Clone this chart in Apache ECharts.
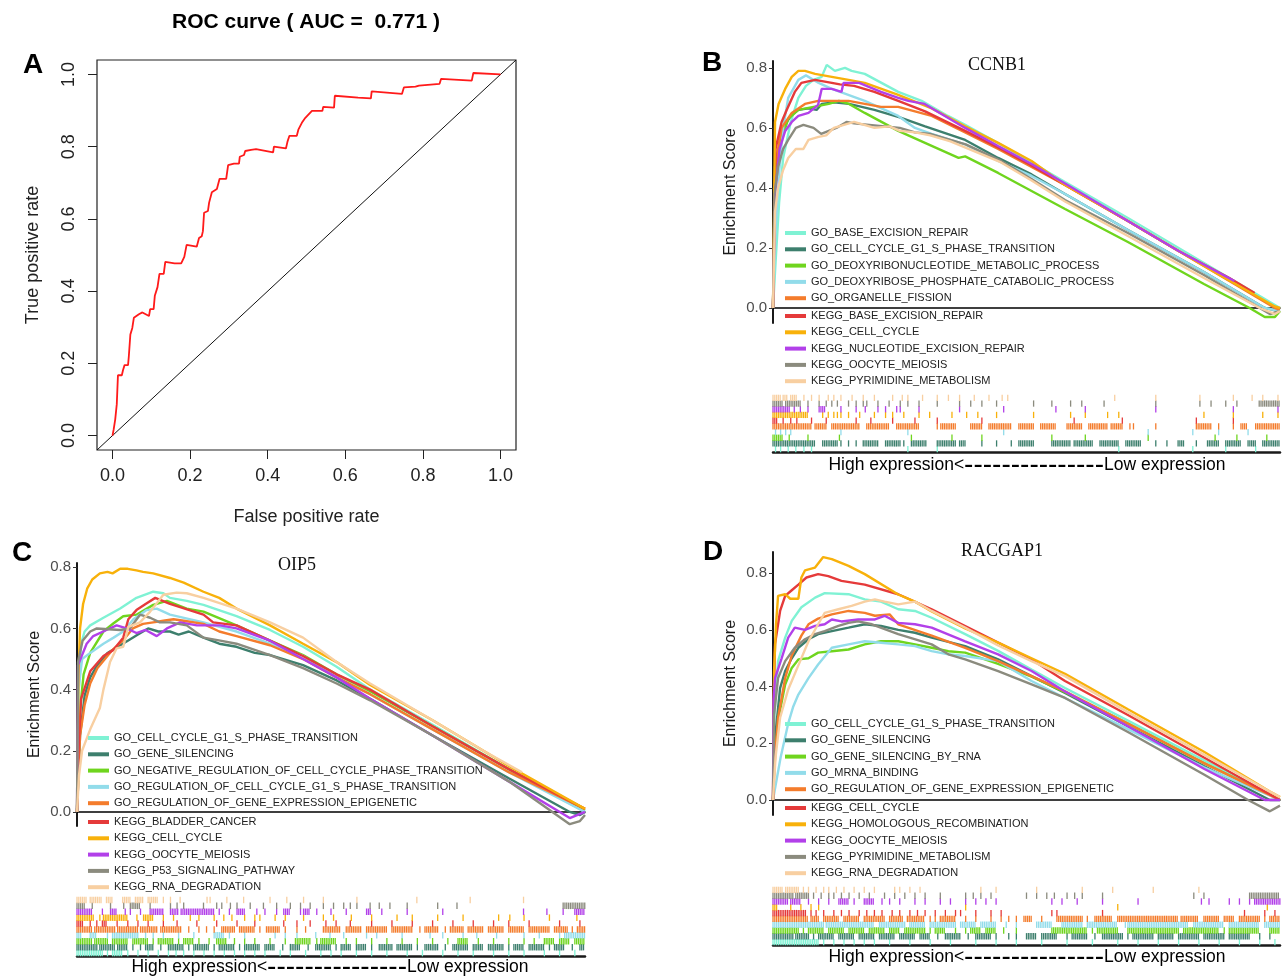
<!DOCTYPE html>
<html lang="en">
<head>
  <meta charset="UTF-8">
  <title>ROC and GSEA</title>
  <script src="https://cdn.jsdelivr.net/npm/echarts@6/dist/echarts.min.js"></script>
  <style>body{margin:0;background:#fff;}</style>
</head>
<body>
  <div id="container" style="width:1282px;height:977px;"></div>
  <script>
    // ---- panel A: ROC curve, [false positive rate, true positive rate]
    var rocCurve = [
      [0,0],[0.003,0.017],[0.007,0.045],[0.011,0.087],[0.014,0.167],[0.024,0.167],[0.027,0.181],[0.031,0.195],
      [0.040,0.195],[0.042,0.219],[0.046,0.28],[0.051,0.298],[0.055,0.326],[0.068,0.336],[0.077,0.341],[0.094,0.331],
      [0.097,0.35],[0.106,0.35],[0.109,0.387],[0.116,0.411],[0.121,0.448],[0.132,0.448],[0.136,0.481],[0.160,0.477],
      [0.177,0.477],[0.185,0.495],[0.191,0.528],[0.217,0.523],[0.223,0.547],[0.230,0.552],[0.233,0.566],[0.236,0.617],
      [0.246,0.622],[0.249,0.645],[0.256,0.674],[0.269,0.683],[0.276,0.711],[0.293,0.711],[0.298,0.749],[0.313,0.753],
      [0.326,0.753],[0.328,0.772],[0.339,0.777],[0.342,0.788],[0.357,0.791],[0.370,0.793],[0.414,0.784],[0.416,0.80],
      [0.447,0.795],[0.451,0.814],[0.456,0.83],[0.475,0.83],[0.479,0.847],[0.488,0.866],[0.497,0.88],[0.514,0.899],
      [0.541,0.899],[0.543,0.91],[0.571,0.908],[0.573,0.941],[0.633,0.936],[0.666,0.934],[0.668,0.953],[0.746,0.946],
      [0.751,0.964],[0.781,0.966],[0.790,0.969],[0.843,0.974],[0.847,0.988],[0.926,0.983],[0.930,1.004],[1.0,1.0]
    ];
    var chanceLine = [[-0.04,-0.04],[1.04,1.04]];
    var rocTicks = [0, 0.2, 0.4, 0.6, 0.8, 1.0];
    var esTicks = [0, 0.2, 0.4, 0.6, 0.8];

    // colours of the ten gene sets (same order in every GSEA panel)
    var setColors = ['#7ff2d4','#3d7f6d','#6fd51e','#92dcea','#f47c2c','#e53a3a','#f8b10a','#b240e9','#8b8b7e','#f8cfa1'];

    // ---- panel B: CCNB1
    var ccnb1Sets = ['GO_BASE_EXCISION_REPAIR','GO_CELL_CYCLE_G1_S_PHASE_TRANSITION','GO_DEOXYRIBONUCLEOTIDE_METABOLIC_PROCESS',
      'GO_DEOXYRIBOSE_PHOSPHATE_CATABOLIC_PROCESS','GO_ORGANELLE_FISSION','KEGG_BASE_EXCISION_REPAIR','KEGG_CELL_CYCLE',
      'KEGG_NUCLEOTIDE_EXCISION_REPAIR','KEGG_OOCYTE_MEIOSIS','KEGG_PYRIMIDINE_METABOLISM'];
    // running enrichment score, [rank %, ES]
    var ccnb1Es = [
      [[0,0],[0.5,0.15],[1.2,0.35],[2,0.5],[3.5,0.62],[5,0.7],[6.5,0.74],[8,0.76],[9.6,0.77],[10.6,0.81],[12.2,0.79],[14.2,0.8],[15.5,0.79],[18.1,0.78],[24.7,0.72],[29.3,0.69],[34.5,0.64],[37.9,0.61],[44.4,0.55],[51,0.485],[57.6,0.42],[70,0.3],[80,0.2],[91,0.09],[100,0]],
      [[0,0],[0.3,0.4],[1,0.52],[2,0.6],[3.5,0.64],[5,0.66],[7,0.665],[8.6,0.66],[9.6,0.68],[12,0.685],[15,0.68],[20,0.66],[25,0.635],[30,0.605],[37.9,0.56],[44.4,0.5],[51,0.445],[57.6,0.38],[70,0.26],[85,0.12],[97,0],[100,-0.01]],
      [[0,0],[0.4,0.4],[1.5,0.55],[3,0.63],[5,0.66],[8,0.67],[11,0.68],[13,0.69],[15,0.68],[18.1,0.65],[24.7,0.59],[31.3,0.54],[36.6,0.5],[37.9,0.505],[44.4,0.45],[51,0.39],[57.6,0.33],[70,0.22],[85,0.08],[94,0],[97,-0.03],[99,-0.03],[100,-0.01]],
      [[0,0],[0.5,0.25],[1.2,0.45],[2,0.6],[3,0.7],[5,0.76],[6.5,0.775],[9,0.75],[11.6,0.73],[18.1,0.69],[24.7,0.64],[28,0.6],[31.3,0.58],[35,0.56],[37.9,0.545],[44.4,0.49],[51,0.44],[57.6,0.38],[70,0.26],[85,0.12],[97,0],[100,-0.01]],
      [[0,0],[0.4,0.47],[1.7,0.6],[3.7,0.65],[6.3,0.68],[8.9,0.69],[11.6,0.69],[14.9,0.69],[18.1,0.68],[21.3,0.67],[24.7,0.67],[28,0.655],[31.3,0.64],[37.9,0.585],[44.4,0.53],[51,0.47],[57.6,0.41],[70,0.29],[85,0.14],[99,0],[100,-0.005]],
      [[0,0],[0.5,0.53],[1.7,0.62],[2.7,0.66],[4.3,0.72],[5.6,0.75],[8.3,0.76],[11.6,0.75],[13.2,0.745],[16,0.74],[20,0.72],[24.7,0.69],[30,0.655],[37.9,0.59],[44.4,0.535],[51,0.475],[57.6,0.41],[70,0.29],[80,0.19],[90,0.1],[95,0.05]],
      [[0,0],[0.4,0.62],[1.1,0.68],[2.4,0.73],[3.7,0.77],[5,0.79],[6.3,0.79],[8.3,0.78],[11.6,0.77],[14.9,0.76],[18.1,0.75],[24.7,0.71],[31.3,0.665],[37.9,0.605],[44.4,0.55],[51,0.49],[57.6,0.41],[70,0.29],[85,0.14],[99,0.005],[100,0]],
      [[0,0],[0.4,0.38],[1.3,0.53],[2.4,0.59],[3.7,0.62],[5,0.64],[7,0.65],[8.9,0.677],[9.6,0.73],[11.6,0.73],[13.5,0.72],[13.9,0.75],[17,0.75],[21.3,0.72],[24.7,0.7],[26.7,0.69],[29.9,0.68],[37.9,0.6],[44.4,0.54],[51,0.48],[57.6,0.415],[70,0.29],[80,0.19],[91,0.09]],
      [[0,0],[0.3,0.38],[1,0.47],[2,0.53],[3,0.56],[4.5,0.6],[6,0.61],[8,0.6],[9.5,0.58],[11,0.59],[12.5,0.6],[14.5,0.62],[16,0.615],[19,0.61],[22,0.605],[25,0.6],[28,0.585],[31,0.58],[35,0.56],[38,0.545],[45,0.49],[51,0.43],[57.6,0.36],[70,0.25],[85,0.11],[96,0],[98,-0.02],[100,-0.01]],
      [[0,0],[0.4,0.32],[1,0.4],[2,0.46],[3,0.5],[4.5,0.53],[6,0.53],[7,0.56],[9,0.57],[10.5,0.575],[12,0.6],[14,0.61],[16,0.62],[18,0.61],[20,0.6],[23,0.605],[25,0.59],[28,0.585],[31,0.575],[35,0.555],[40,0.52],[45,0.485],[51,0.425],[57.6,0.355],[70,0.24],[85,0.1],[96,0],[99,-0.02],[100,-0.01]]
    ];
    // hit positions (rank %), a pair is a run of adjacent hits
    var ccnb1Hits = [
      [0.5,1.5,3,4.5,6.1,7.6,26.6,32.4,68.2,82.8,89.3,95.2],
      [[0,8.3],[9.8,12.7],13.4,14.9,16.4,[17.8,20.7],[22.2,25.1],25.8,[27.3,30.2],[32.4,36.1],[36.8,38.2],41.2,44.1,47,[48.5,51.4],[55,58.7],[59.4,63.1],[64.5,68.2],[69.6,72.6],75.5,77.7,[79.9,81.3],83.5,[85.7,87.9],[89.3,92.3],[93.7,95.2],[96.6,100]],
      [[0,1.8],3.2,6.9,13.1,27.3,35.3,41.2,55,61.6,74,87.2,91.5,97.4],
      [0.5,1.5,2.5,3.5,13.4,26.6,45.5,74,82.8,87.9,93.7],
      [[0,7.6],[8.3,10.5],[11.6,17.1],[18.5,22.9],[24.4,29],32.4,[33.1,36.1],[39,41.2],[42.6,47],[48.5,51.4],[52.8,55.8],[58,60.9],[62.3,66],[66.7,68.9],70.4,71.1,75.5,[83.5,86.4],87.9,90.8,[92.3,93.7],[95.2,100]],
      [[0,1],2,3.5,4.7,7.6,10.5,16.4,19.3,23.6,28,32.4,41.2,59.4,68.9,83.5,90.8],
      [[0,6.9],9.8,10.9,12,12.7,13.4,14.9,17.1,20,22.2,23.6,25.8,28.8,30.9,35.3,38.2,40.4,44.1,51.4,58.7,61.6,66,68.2,85,90.8,96.6,99.6],
      [[0,3.2],4.2,5.4,6.9,[9.1,10.5],13.4,16.4,18.2,20.7,22.2,24.4,25.1,28.8,36.8,45.5,55.8,61.6,75.5,90.8,99.6],
      [[0,2],[2.5,5.4],6.9,9.1,10.5,11.6,12.7,14.9,16.4,17.8,18.5,20.7,22.9,25.1,26.6,28.8,32.4,36.8,39,41.2,44.1,51.4,55,58.7,60.9,65.3,75.5,84.2,86.4,89.3,91.5,[95.9,100]],
      [[0,1.5],[2,3],[3.5,4.7],6.1,7.6,9.1,10.9,12,13.4,15.6,17.8,20,23.6,25.5,26.6,29.5,32.4,34.6,36.8,39.7,42.6,45.2,46.3,67.4,75.5,84.2,90.8,94.5,96.6,99.6]
    ];

    // ---- panel C: OIP5
    var oip5Sets = ['GO_CELL_CYCLE_G1_S_PHASE_TRANSITION','GO_GENE_SILENCING','GO_NEGATIVE_REGULATION_OF_CELL_CYCLE_PHASE_TRANSITION',
      'GO_REGULATION_OF_CELL_CYCLE_G1_S_PHASE_TRANSITION','GO_REGULATION_OF_GENE_EXPRESSION_EPIGENETIC','KEGG_BLADDER_CANCER',
      'KEGG_CELL_CYCLE','KEGG_OOCYTE_MEIOSIS','KEGG_P53_SIGNALING_PATHWAY','KEGG_RNA_DEGRADATION'];
    var oip5Es = [
      [[0,0],[0.3,0.38],[0.8,0.55],[1.5,0.59],[2.6,0.61],[5.2,0.635],[8.5,0.665],[11.7,0.7],[15,0.72],[17,0.715],[18.3,0.7],[21.6,0.69],[24.9,0.677],[31.4,0.64],[38,0.595],[44.5,0.54],[51.1,0.475],[57.7,0.4],[70,0.285],[85,0.14],[100,0]],
      [[0,0],[0.6,0.25],[1.5,0.38],[2.6,0.44],[4,0.48],[6,0.52],[8,0.54],[10,0.56],[12,0.58],[14,0.6],[16,0.59],[18.3,0.59],[20,0.58],[22,0.59],[24.9,0.57],[28,0.55],[31.4,0.54],[35,0.52],[38,0.513],[44.5,0.48],[51.1,0.43],[57.7,0.37],[70,0.25],[85,0.11],[97,0],[99,-0.01],[100,0]],
      [[0,0],[0.4,0.3],[1.3,0.45],[2.6,0.52],[5.2,0.59],[7.2,0.617],[9.1,0.64],[11.7,0.645],[15,0.677],[17.7,0.69],[21.6,0.665],[24.9,0.655],[31.4,0.61],[38,0.56],[44.5,0.513],[51.1,0.45],[57.7,0.395],[70,0.28],[85,0.14],[100,0.005]],
      [[0,0],[0.3,0.4],[1,0.5],[2.6,0.52],[5.2,0.55],[7.2,0.57],[9.1,0.59],[11.1,0.63],[13.7,0.66],[15.7,0.665],[18.3,0.645],[24.9,0.62],[31.4,0.59],[38,0.55],[44.5,0.51],[51.1,0.44],[57.7,0.385],[70,0.27],[85,0.13],[100,0]],
      [[0,0],[0.6,0.25],[1.5,0.35],[2.6,0.42],[4,0.47],[5.5,0.5],[7,0.53],[9,0.56],[11,0.6],[13,0.615],[15,0.62],[17,0.625],[19,0.63],[21,0.625],[24.9,0.615],[28,0.59],[31.4,0.575],[38,0.545],[44.5,0.5],[51.1,0.44],[57.7,0.385],[70,0.27],[85,0.13],[100,0.01]],
      [[0,0],[0.3,0.2],[0.8,0.37],[2.6,0.46],[5.2,0.51],[7.2,0.53],[9.1,0.57],[10.1,0.63],[11.7,0.66],[13.5,0.68],[15.4,0.7],[18.3,0.68],[24.9,0.645],[26.8,0.62],[31.4,0.61],[38,0.56],[44.5,0.51],[51.1,0.45],[57.7,0.4],[70,0.28],[85,0.14],[100,0.01]],
      [[0,0],[0.3,0.45],[0.6,0.6],[1.2,0.68],[2,0.73],[3,0.76],[4.5,0.78],[6,0.785],[7,0.78],[8.5,0.795],[10,0.795],[11.7,0.79],[13,0.785],[15,0.78],[18.3,0.765],[21,0.75],[24.9,0.72],[28,0.7],[31.4,0.665],[38,0.61],[44.5,0.55],[51.1,0.49],[57.7,0.415],[70,0.3],[85,0.15],[100,0.01]],
      [[0,0],[0.2,0.48],[1.9,0.55],[3.2,0.575],[5.8,0.595],[7.8,0.61],[9.8,0.6],[11.7,0.585],[13.5,0.595],[15.7,0.575],[17.7,0.6],[20.3,0.62],[23.6,0.61],[28.2,0.61],[31.4,0.6],[38,0.56],[44.5,0.5],[51.1,0.44],[57.7,0.37],[70,0.25],[85,0.1],[97,-0.02],[100,0]],
      [[0,0],[0.2,0.49],[1.1,0.56],[2.6,0.59],[3.9,0.6],[8.5,0.595],[10.4,0.6],[12.4,0.645],[14.4,0.635],[16.3,0.62],[18.3,0.62],[21.6,0.61],[24.9,0.57],[28.2,0.56],[31.4,0.55],[38,0.513],[44.5,0.47],[51.1,0.42],[57.7,0.365],[70,0.25],[85,0.1],[97,-0.04],[99,-0.03],[100,-0.01]],
      [[0,0],[0.4,0.12],[1,0.2],[2.6,0.27],[4.5,0.34],[5.2,0.4],[6.5,0.49],[7.8,0.535],[9.1,0.54],[10.1,0.605],[12.4,0.62],[14.4,0.655],[17,0.71],[19.6,0.717],[21.6,0.715],[24.9,0.7],[31.4,0.665],[38,0.62],[44.5,0.57],[51.1,0.49],[57.7,0.42],[70,0.3],[80,0.2],[87.6,0.13]]
    ];
    var oip5Hits = [
      [[0,5],6,[7,9],10,12,14,16,18,19.5,21,23,25,27,29,31,33,35,37,40,42,45,48,50,52,55,58,61,65,68,72,75,78,82,85,88,92,95,98],
      [[0,4],[4.5,7.5],[8,10],11,12.5,[13.5,15],16.5,[18,21],22,[23,26],27,[28,31],32,[33,36],[37,39],40.5,[42,44],45.5,[47,50],51,[52,54],[55,57],58,[59.5,62],[63,66],67,[68.5,71],72.5,[74,77],[78,80],[81,84],85,[86,88],[89,92],93,[94,96],97.5,[99,100]],
      [[0,3],[3.5,6],[7,10],[11,14],15,[16,19],20,[21,23],24,26,[27.5,29.5],31,33,35,38,41,[43,46],47.2,[48,51],53,55,58,61,64,67,70,73,[75,77],79,82,85,88,90,[92,94],[95,97],[98,100]],
      [[0,1],[2.6,4],6,[7,12],13.5,15,17,20,23,[27,29],30,33,39,41,43.3,47,49.8,52.5,57,59,64,69.5,72,76,78.7,82.6,88,91,95,[96,100]],
      [[0,3],[3.5,7.5],[8,12],[12.5,16],[16.5,20.5],22,24,25.5,27,[28.5,31],[32,35],36,[37.3,40],41,43.3,45,[48.5,52],[53,56],[57,61],[62,66],67.5,[68.5,71],72.5,[73.5,76],[77,80],[81,84],[85,88],[89,93],[94,96.5],97.5,[98.5,100]],
      [[0,1.3],2.6,3.9,[5,6],7.9,10,12,14,17,19.7,23.6,27.5,31.5,35,40.7,43.3,45.9,49,51,53.8,58,62,66,70,74,78,82,85,89,95,99],
      [[0,3.5],4.5,[5.2,10],11.8,[13.1,15],17,19,22.3,24,27,28.9,30.5,33,35,36,39,41,44.6,48.5,50.5,54,58,63,66,71,76,83,85.2,88,93,98.4],
      [[0,3],5,[6.6,8],9.5,10.5,12.5,[14.4,17],[18.4,20],[20.5,27],28,30,[31.5,33],35.4,37,39.3,[40.7,42],44,[44.6,46],47.2,50,53,[57,58],60,65,72,87.9,92.5,95.7,[98,100]],
      [[0,1.5],3,6.6,9.2,[10.5,12.5],14.4,18.4,19.7,21,24.9,27.5,28.5,30.2,31.5,34.1,36.7,39.3,42,44,45.9,48.5,50.5,52.5,53.8,55.1,57.7,59.5,61.6,65,71,74.8,[95.7,100]],
      [[0,2],[2.6,5],[5.8,7],[9,10.5],[11.5,13],[14,16],17,18.4,20.3,25.6,26.2,29.5,32.8,38,41.3,44.6,48.5,55.1,66.9,77.4,87.9]
    ];

    // ---- panel D: RACGAP1
    var racgap1Sets = ['GO_CELL_CYCLE_G1_S_PHASE_TRANSITION','GO_GENE_SILENCING','GO_GENE_SILENCING_BY_RNA','GO_MRNA_BINDING',
      'GO_REGULATION_OF_GENE_EXPRESSION_EPIGENETIC','KEGG_CELL_CYCLE','KEGG_HOMOLOGOUS_RECOMBINATION','KEGG_OOCYTE_MEIOSIS',
      'KEGG_PYRIMIDINE_METABOLISM','KEGG_RNA_DEGRADATION'];
    var racgap1Es = [
      [[0,0],[0.3,0.3],[1,0.49],[2.4,0.573],[3.7,0.632],[5.6,0.68],[8.3,0.714],[10.2,0.73],[14.9,0.726],[18.1,0.708],[21.3,0.7],[24.7,0.673],[28,0.667],[31.3,0.643],[37.9,0.585],[44.4,0.526],[51,0.46],[57.6,0.395],[70,0.28],[85,0.14],[100,0]],
      [[0,0],[0.3,0.2],[1.4,0.395],[2.4,0.455],[3.7,0.5],[5,0.537],[7,0.567],[8.9,0.585],[11.6,0.596],[14.9,0.608],[18.1,0.62],[21.3,0.614],[24.7,0.6],[28,0.59],[31.3,0.573],[37.9,0.543],[44.4,0.496],[51,0.437],[57.6,0.378],[70,0.26],[85,0.12],[98,0],[100,0]],
      [[0,0],[0.3,0.15],[1.2,0.3],[2.4,0.407],[3.7,0.466],[5,0.496],[7,0.5],[8.9,0.52],[11.6,0.525],[14.9,0.531],[18.1,0.549],[21.3,0.56],[24.7,0.56],[28,0.549],[31.3,0.537],[34.6,0.525],[37.9,0.52],[44.4,0.48],[51,0.435],[57.6,0.38],[70,0.27],[85,0.13],[100,0]],
      [[0,0],[0.5,0.05],[1.5,0.15],[3,0.27],[4,0.33],[5,0.372],[7,0.43],[8.9,0.478],[11.6,0.537],[14.9,0.549],[18.1,0.56],[21.3,0.555],[24.7,0.549],[28,0.543],[31.3,0.525],[34.6,0.514],[37.9,0.508],[44.4,0.49],[51,0.42],[57.6,0.36],[70,0.25],[85,0.115],[100,0]],
      [[0,0],[0.3,0.12],[1,0.29],[2.4,0.43],[3.7,0.51],[5.6,0.58],[7,0.62],[8.9,0.64],[11.6,0.655],[14.9,0.667],[18.1,0.66],[20.1,0.65],[23,0.655],[24.7,0.62],[31.3,0.58],[37.9,0.537],[44.4,0.49],[51,0.437],[57.6,0.383],[70,0.27],[85,0.13],[100,0]],
      [[0,0],[0.2,0.4],[0.4,0.55],[1.4,0.667],[2.4,0.72],[3.7,0.74],[5,0.76],[6.6,0.785],[8.9,0.797],[10.9,0.79],[13.5,0.773],[18.1,0.76],[24.7,0.726],[31.3,0.673],[37.9,0.614],[44.4,0.555],[51,0.496],[57.6,0.42],[70,0.3],[85,0.15],[100,0]],
      [[0,0],[0.2,0.45],[0.6,0.62],[1,0.72],[2.4,0.726],[3.4,0.71],[5,0.71],[5.6,0.785],[6.3,0.81],[8.3,0.82],[9.9,0.857],[11.6,0.85],[14.9,0.826],[18.1,0.797],[24.7,0.725],[28,0.7],[31.3,0.665],[37.9,0.605],[44.4,0.555],[51,0.5],[57.6,0.445],[70,0.32],[85,0.17],[98,0.03],[100,0.01]],
      [[0,0],[0.1,0.35],[0.4,0.43],[1.7,0.5],[3,0.573],[4.3,0.608],[6.3,0.6],[8.3,0.614],[10.2,0.62],[11.6,0.637],[13.5,0.63],[16.8,0.637],[20.1,0.637],[22,0.65],[24.7,0.625],[28,0.62],[31.3,0.608],[37.9,0.56],[44.4,0.514],[51,0.455],[57.6,0.383],[70,0.26],[85,0.11],[97,0],[100,0]],
      [[0,0],[0.2,0.3],[1,0.43],[2.4,0.49],[4.3,0.537],[6.3,0.567],[8.3,0.585],[10.2,0.596],[12.9,0.614],[14.9,0.625],[16.8,0.63],[19.5,0.62],[24.7,0.585],[31.3,0.549],[34.6,0.514],[37.9,0.496],[44.4,0.455],[51,0.408],[57.6,0.36],[70,0.24],[85,0.09],[93.7,0],[98,-0.04],[100,-0.02]],
      [[0,0],[0.5,0.15],[1.4,0.29],[3,0.39],[5,0.475],[7,0.56],[8.9,0.62],[10.2,0.66],[12.9,0.673],[15.5,0.685],[18.1,0.7],[20.1,0.708],[22,0.7],[24.7,0.69],[28,0.7],[31.3,0.667],[37.9,0.608],[44.4,0.545],[51,0.49],[57.6,0.437],[70,0.31],[85,0.16],[98,0.03],[100,0.01]]
    ];
    var racgap1Hits = [
      [[0,9],10,12,14,16,18,20,23,27,31,35,40,44,48,53,58,63,68,72,76,80,84,88,92,96,99],
      [[0,4],[4.5,7],8,[9,12],[13,16],[17,20],[21,24],[25,28],[29,31],32.5,[34,37],38.5,[40,43],44,46.5,48,[50,52],[53,56],58,[59,62],63.5,[65,69],70,[71,75],[76,79],[80,84],[85,89],[90,94],96,98],
      [[0,5],6,[7,10],[11,14],[15,18],[19,22],[23,25],[26,30],31,[32,34],36,38,[39,41],[42,44],45.5,48,[55,62],63,[64,68],[70,80],[81,88],89,[90,96],[98,100]],
      [[0,10],[10.5,20],[21,26],[27,30],[31,36],[37,40],[41,44],46,48,[52,55],[57,61],[62,68],69.5,[70,82],[83,89],[90,96],[97,100]],
      [[0,7],[7.5,9],[10,13],[14,17],[18,22],[23,25.5],[26.5,30],31,32,[33,36],38,40,43,45,46.5,48,[49.5,51],53,[56,61],62,[63.5,67],[68,80],[80.5,84],[85,88],[89,91],[92,96],97,[98,100]],
      [[0,6.5],7.5,8.5,10,12,13.5,15,17,18.5,20,21.5,23.5,25,27,28.5,30,32,34,36,37,40,43,45,55,56,65,93,97,99],
      [[0,1],3.5,5.5,7.5,9,38,68,97.5],
      [[0,3],[3.5,5.5],7,9,11,[13,15],16,[18,20],21.5,23,25,28,30,33,35,38,40,42,44,55,57,60,65,72,84.5,86,90,92,94,[95,100]],
      [[0,4],[4.5,7],8,9.5,11,12,13.5,15,17,19,22,24,26,28,30,33,38,39.5,41,43,50,52,54,55.5,58,59.5,61,65,83,85,[94,100]],
      [[0,2],[2.5,5],6,7,8.5,10,11,12.5,14,16,18,20,24,25,27,29,41,44,52,61,67,75,84]
    ];

    // ---- layout of the three GSEA panels
    var gseaPanels = [
      { key: 'B', sets: ccnb1Sets, es: ccnb1Es, hits: ccnb1Hits,
        main: { left: 773, top: 61, width: 507, height: 262 }, yMin: -0.05, yMax: 0.823,
        rug: { left: 773, top: 395, width: 507, height: 57 }, legendLeft: 785, legendTops: [227, 310] },
      { key: 'C', sets: oip5Sets, es: oip5Es, hits: oip5Hits,
        main: { left: 77, top: 563, width: 508, height: 263 }, yMin: -0.046, yMax: 0.814,
        rug: { left: 77, top: 897, width: 508, height: 59 }, legendLeft: 88, legendTops: [732, 816] },
      { key: 'D', sets: racgap1Sets, es: racgap1Es, hits: racgap1Hits,
        main: { left: 773, top: 552, width: 507, height: 263 }, yMin: -0.053, yMax: 0.875,
        rug: { left: 773, top: 887, width: 507, height: 58 }, legendLeft: 785, legendTops: [718, 802] }
    ];

    var FONT = '"Liberation Sans", Arial, sans-serif';
    var fmt1 = function (v) { return v.toFixed(1); };

    var grids = [{ left: 97, top: 60, width: 419, height: 390, show: true, borderColor: '#222', borderWidth: 1.2,
      backgroundColor: 'transparent', outerBoundsMode: 'none' }];
    var xAxes = [{
      gridIndex: 0, type: 'value', min: -0.04, max: 1.04,
      axisLine: { show: false, onZero: false },
      axisTick: { show: true, inside: false, length: 9, customValues: rocTicks, lineStyle: { color: '#222' } },
      axisLabel: { customValues: rocTicks, formatter: fmt1, fontSize: 18, color: '#222', fontFamily: FONT, margin: 17 },
      splitLine: { show: false },
      name: 'False positive rate', nameLocation: 'middle', nameGap: 58,
      nameTextStyle: { fontSize: 18, color: '#222', fontFamily: FONT }
    }];
    var yAxes = [{
      gridIndex: 0, type: 'value', min: -0.04, max: 1.04,
      axisLine: { show: false, onZero: false },
      axisTick: { show: true, inside: false, length: 9, customValues: rocTicks, lineStyle: { color: '#222' } },
      axisLabel: { customValues: rocTicks, formatter: fmt1, fontSize: 18, color: '#222', fontFamily: FONT, margin: 19, rotate: 90 },
      splitLine: { show: false },
      name: 'True positive rate', nameLocation: 'middle', nameGap: 55,
      nameTextStyle: { fontSize: 18, color: '#222', fontFamily: FONT }
    }];
    var series = [
      { type: 'line', xAxisIndex: 0, yAxisIndex: 0, data: chanceLine, showSymbol: false, silent: true,
        lineStyle: { color: '#111', width: 1 } },
      { type: 'line', xAxisIndex: 0, yAxisIndex: 0, data: rocCurve, showSymbol: false, silent: true,
        lineStyle: { color: '#ff1a1a', width: 1.8 } }
    ];
    var legends = [];

    // one hit is a thin bar; a run of adjacent hits is drawn as a comb of thin bars
    function renderHit(params, api) {
      var p0 = api.coord([api.value(0), api.value(1)]);
      var p1 = api.coord([api.value(2), api.value(1)]);
      var h = api.size([0, 1])[1] * 1.1;
      var style = api.style();
      var children = [];
      for (var x = p0[0]; x <= p1[0] + 0.01; x += 1.8) {
        children.push({ type: 'rect', shape: { x: x - 0.65, y: p0[1] - h / 2, width: 1.3, height: h }, style: style });
      }
      return { type: 'group', children: children };
    }

    gseaPanels.forEach(function (p) {
      var gMain = grids.length;
      grids.push(Object.assign({ outerBoundsMode: 'none' }, p.main));
      xAxes.push({ gridIndex: gMain, type: 'value', min: 0, max: 100,
        axisLine: { show: true, onZero: true, lineStyle: { color: '#000', width: 1.6 } },
        axisTick: { show: false }, axisLabel: { show: false }, splitLine: { show: false } });
      yAxes.push({ gridIndex: gMain, type: 'value', min: p.yMin, max: p.yMax,
        axisLine: { show: true, onZero: false, lineStyle: { color: '#000', width: 1.8 } },
        axisTick: { show: true, length: 4, customValues: esTicks, lineStyle: { color: '#333' } },
        axisLabel: { customValues: esTicks, formatter: fmt1, fontSize: 15, color: '#4d4d4d', fontFamily: FONT, margin: 6 },
        splitLine: { show: false },
        name: 'Enrichment Score', nameLocation: 'middle', nameGap: 34,
        nameTextStyle: { fontSize: 16, color: '#1a1a1a', fontFamily: FONT } });

      var gRug = grids.length;
      grids.push(Object.assign({ outerBoundsMode: 'none' }, p.rug));
      xAxes.push({ gridIndex: gRug, type: 'value', min: 0, max: 100,
        axisLine: { show: true, onZero: false, lineStyle: { color: '#1a1a1a', width: 2.5 } },
        axisTick: { show: false }, axisLabel: { show: false }, splitLine: { show: false } });
      yAxes.push({ gridIndex: gRug, type: 'value', min: -0.5, max: 9.5, show: false });

      var names = p.sets.map(function (s) { return p.key + '|' + s; });
      p.es.forEach(function (curve, i) {
        series.push({ name: names[i], type: 'line', xAxisIndex: gMain, yAxisIndex: gMain, data: curve,
          showSymbol: false, silent: true, color: setColors[i],
          itemStyle: { color: setColors[i] },
          lineStyle: { color: setColors[i], width: 2.4 } });
      });
      p.hits.forEach(function (row, i) {
        series.push({ type: 'custom', xAxisIndex: gRug, yAxisIndex: gRug, silent: true,
          itemStyle: { color: setColors[i] },
          data: row.map(function (h) { return Array.isArray(h) ? [h[0], i, h[1]] : [h, i, h]; }),
          renderItem: renderHit });
      });
      [names.slice(0, 5), names.slice(5)].forEach(function (part, k) {
        legends.push({ orient: 'vertical', left: p.legendLeft, top: p.legendTops[k], padding: 0,
          itemWidth: 21, itemHeight: 4, itemGap: 4.3, icon: 'rect', selectedMode: false,
          data: part, formatter: function (n) { return n.split('|')[1]; },
          textStyle: { fontSize: 11, lineHeight: 12, color: '#222', fontFamily: FONT } });
      });
    });

    function txt(x, y, text, font, color) {
      return { type: 'text', x: x, y: y, silent: true,
        style: { text: text, font: font, fill: color || '#000', textAlign: 'center', textVerticalAlign: 'middle' } };
    }
    function expressionLabel(x, y) {
      return { type: 'text', x: x, y: y, silent: true,
        style: { text: '{a|High expression<}{b|---------------}{a|Low expression}', textAlign: 'center', textVerticalAlign: 'middle',
          fill: '#000',
          rich: { a: { fontSize: 17.5, fontFamily: FONT, fill: '#000' },
                  b: { fontSize: 28, fontFamily: FONT, fill: '#000' } } } };
    }
    var graphics = [
      txt(33, 65, 'A', 'bold 28px ' + FONT),
      txt(306, 22, 'ROC curve ( AUC =  0.771 )', 'bold 21px ' + FONT),
      txt(712, 63, 'B', 'bold 28px ' + FONT),
      txt(22, 553, 'C', 'bold 28px ' + FONT),
      txt(713, 552, 'D', 'bold 28px ' + FONT),
      txt(997, 65, 'CCNB1', '18px "Liberation Serif", serif', '#111'),
      txt(297, 565, 'OIP5', '18px "Liberation Serif", serif', '#111'),
      txt(1002, 551, 'RACGAP1', '18px "Liberation Serif", serif', '#111'),
      expressionLabel(1027, 465),
      expressionLabel(330, 967),
      expressionLabel(1027, 957)
    ];

    var myChart = echarts.init(document.getElementById('container'));
    myChart.setOption({
      backgroundColor: '#ffffff',
      animation: false,
      grid: grids,
      xAxis: xAxes,
      yAxis: yAxes,
      legend: legends,
      series: series,
      graphic: graphics
    });
  </script>
</body>
</html>
